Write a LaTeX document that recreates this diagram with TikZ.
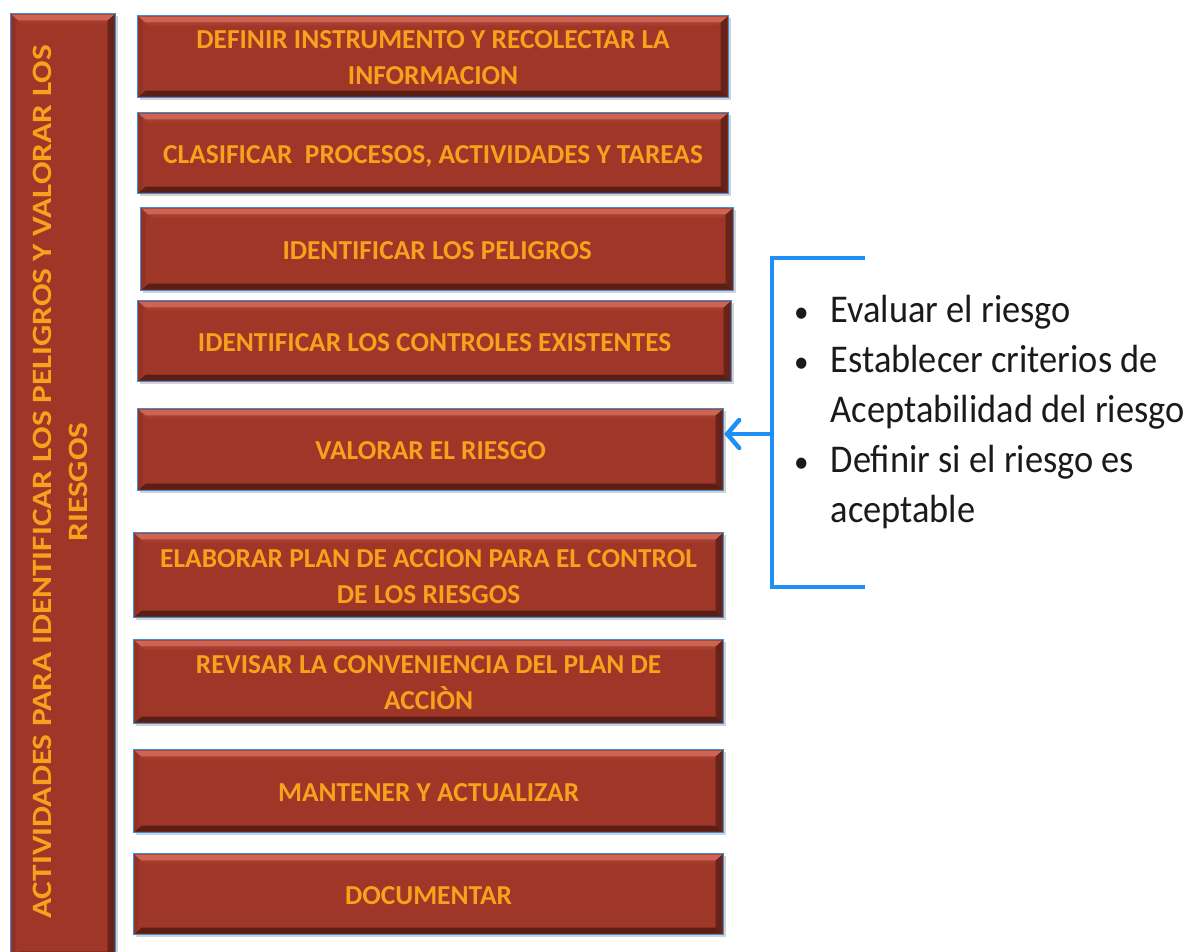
\documentclass[tikz,border=0pt]{standalone}
\usepackage{fontspec}
\setmainfont{Carlito}
\usetikzlibrary{calc,arrows.meta,shadows}
\definecolor{boxfill}{HTML}{9E3728}
\definecolor{boxhl}{HTML}{CD6554}
\definecolor{boxdk}{HTML}{5A1E14}
\definecolor{boxline}{HTML}{3C8DDC}
\definecolor{txtor}{HTML}{F6A21D}
\definecolor{brblue}{HTML}{1E90F5}
\definecolor{txtdk}{HTML}{1A1A1A}
\newcommand{\btxt}[1]{\raisebox{-3pt}[\height][\depth]{\fontsize{27.4}{36}\selectfont\bfseries\begin{tabular}{@{}c@{}}#1\end{tabular}}}
\newcommand{\mybul}{\scalebox{0.8}{•}}
\tikzset{
  box/.style={draw=boxline, line width=1.2pt, fill=boxfill, inner sep=0pt, anchor=north west,
    text=txtor, align=center,
    drop shadow={shadow xshift=2pt, shadow yshift=-2pt, opacity=0.35, fill=gray},
    path picture={
      \fill[boxhl] ($(path picture bounding box.north west)+(1,1)$) -- ($(path picture bounding box.north east)+(-1,1)$)
        -- ($(path picture bounding box.north east)+(-8,7)$) -- ($(path picture bounding box.north west)+(8,7)$) -- cycle;
      \fill[boxfill!85!boxhl] ($(path picture bounding box.north west)+(8,7)$) -- ($(path picture bounding box.north east)+(-8,7)$)
        -- ($(path picture bounding box.north east)+(-10,10)$) -- ($(path picture bounding box.north west)+(10,10)$) -- cycle;
      \fill[boxdk] ($(path picture bounding box.south west)+(1,-1)$) -- ($(path picture bounding box.south east)+(-1,-1)$)
        -- ($(path picture bounding box.south east)+(-8,-7)$) -- ($(path picture bounding box.south west)+(8,-7)$) -- cycle;
      \fill[boxdk!80!boxfill] ($(path picture bounding box.north east)+(-1,1)$) -- ($(path picture bounding box.south east)+(-1,-1)$)
        -- ($(path picture bounding box.south east)+(-8,-7)$) -- ($(path picture bounding box.north east)+(-8,7)$) -- cycle;
      \fill[boxfill!80!boxdk] ($(path picture bounding box.north west)+(1,1)$) -- ($(path picture bounding box.south west)+(1,-1)$)
        -- ($(path picture bounding box.south west)+(5,-7)$) -- ($(path picture bounding box.north west)+(5,7)$) -- cycle;
    }},
  bracket/.style={draw=brblue, line width=4.5pt},
}
\begin{document}
\begin{tikzpicture}[x=1pt,y=-1pt]
\useasboundingbox[fill=white] (0,0) rectangle (1196,952);
% side bar
\node[box, minimum width=105, minimum height=945] (side) at (10,13) {};
\node[rotate=90, text=txtor] (sidetxt) at (62,482)
  {\scalebox{1.19}[1]{\fontsize{28}{36}\selectfont\bfseries\begin{tabular}{@{}c@{}}ACTIVIDADES PARA IDENTIFICAR LOS PELIGROS Y VALORAR LOS\\RIESGOS\end{tabular}}};
% step boxes
\node[box, minimum width=591, minimum height=82] (b1) at (137,15) {\btxt{DEFINIR INSTRUMENTO Y RECOLECTAR LA\\INFORMACION}};
\node[box, minimum width=591, minimum height=81] (b2) at (137,112) {\btxt{CLASIFICAR\ \ PROCESOS, ACTIVIDADES Y TAREAS}};
\node[box, minimum width=593, minimum height=83] (b3) at (140,207) {\btxt{IDENTIFICAR LOS PELIGROS}};
\node[box, minimum width=594, minimum height=81] (b4) at (137,300) {\btxt{IDENTIFICAR LOS CONTROLES EXISTENTES}};
\node[box, minimum width=586, minimum height=82] (b5) at (137,408) {\btxt{VALORAR EL RIESGO}};
\node[box, minimum width=590, minimum height=85] (b6) at (133,532) {\btxt{ELABORAR PLAN DE ACCION PARA EL CONTROL\\DE LOS RIESGOS}};
\node[box, minimum width=590, minimum height=84] (b7) at (133,639) {\btxt{REVISAR LA CONVENIENCIA DEL PLAN DE\\ACCIÒN}};
\node[box, minimum width=590, minimum height=83] (b8) at (133,749) {\btxt{MANTENER Y ACTUALIZAR}};
\node[box, minimum width=590, minimum height=81] (b9) at (133,853) {\btxt{DOCUMENTAR}};
% bracket
\coordinate (bt) at (865,258);
\coordinate (btl) at (772,258);
\coordinate (bbl) at (772,587);
\coordinate (bb) at (865,587);
\coordinate (bm) at (772,434);
\draw[bracket] (bt) -- (btl) -- (bbl) -- (bb);
\draw[bracket, line cap=round, -{Straight Barb[length=12pt,width=28pt,line cap=round]}] (bm) -- (bm -| b5.east);
% bullet list
\node[anchor=north west, inner sep=0pt, text=txtdk] (list) at (794,287)
  {\scalebox{1}[1.08]{\fontsize{36.4}{46.3}\selectfont\begin{tabular}{@{}l@{\hspace{22pt}}l@{}}
  \mybul&Evaluar el riesgo\\
  \mybul&Establecer criterios de\\
   &Aceptabilidad del riesgo\\
  \mybul&Definir si el riesgo es\\
   &aceptable
  \end{tabular}}};
\end{tikzpicture}
\end{document}
